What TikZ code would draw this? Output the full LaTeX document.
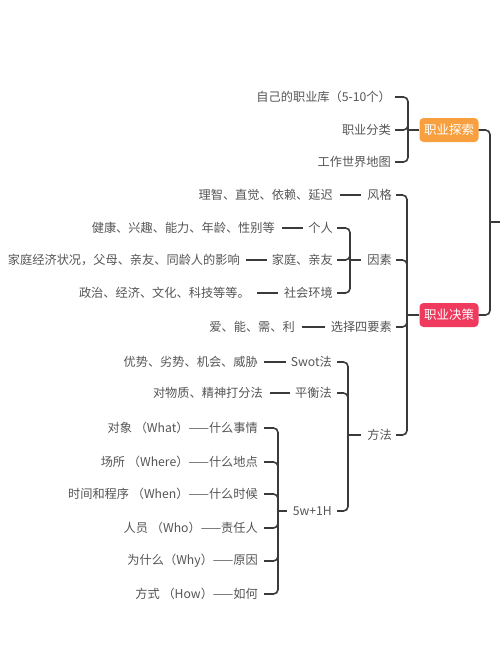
\documentclass[tikz,border=0pt]{standalone}
\usepackage{fontspec}
\setmainfont{Noto Sans CJK SC}
\usetikzlibrary{calc}
\definecolor{txt}{HTML}{555555}
\definecolor{ln}{HTML}{3A3A3A}
\definecolor{org}{HTML}{F8A040}
\definecolor{rd}{HTML}{EF3A5D}
\begin{document}
\begin{tikzpicture}[x=1pt,y=-1pt,
  lbl/.style={anchor=east,inner sep=0pt,text=txt,font=\fontsize{12.2}{14}\selectfont},
  topic/.style={rounded corners=4pt,minimum width=59pt,minimum height=24pt,inner sep=0pt,text=white,font=\fontsize{12.5}{14}\selectfont},
  conn/.style={draw=ln,line width=1.6pt,rounded corners=4.5pt},
  leafln/.style={draw=ln,line width=1.6pt}]
\useasboundingbox[fill=white] (0,0) rectangle (500,653);

% main topics
\node[topic,fill=org] (ts) at (449,130) {职业探索};
\node[topic,fill=rd] (jc) at (449,315) {职业决策};
\coordinate (r) at (490,222);
\coordinate (rend) at (501,222);
\draw[conn] (ts.east) -| (r);
\draw[conn] (jc.east) -| (r);
\draw[leafln] (r) -- (rend);

% 职业探索 children
\node[lbl] (e1) at (391,97) {自己的职业库（5-10个）};
\node[lbl] (e2) at (391,130) {职业分类};
\node[lbl] (e3) at (391,162) {工作世界地图};
\coordinate (bts) at (408,130);
\draw[conn] ([xshift=4pt]e1.east) -| (bts);
\draw[conn] ([xshift=4pt]e2.east) -| (bts);
\draw[conn] ([xshift=4pt]e3.east) -| (bts);
\draw[leafln] (ts.west) -- (bts);

% 职业决策 children
\node[lbl] (fg) at (392,195) {风格};
\node[lbl] (ys) at (392,260) {因素};
\node[lbl] (xz) at (392,327) {选择四要素};
\node[lbl] (ff) at (392,435) {方法};
\coordinate (bjc) at (407,315);
\draw[conn] ([xshift=4pt]fg.east) -| (bjc);
\draw[conn] ([xshift=4pt]ys.east) -| (bjc);
\draw[conn] ([xshift=4pt]xz.east) -| (bjc);
\draw[conn] ([xshift=4pt]ff.east) -| (bjc);
\draw[leafln] (jc.west) -- (bjc);

% 风格
\node[lbl] (fgl) at (333,195) {理智、直觉、依赖、延迟};
\draw[leafln] ([xshift=7pt]fgl.east) -- ([xshift=-6pt]fg.west);

% 因素
\node[lbl] (gr) at (333,228) {个人};
\node[lbl] (jt) at (333,260) {家庭、亲友};
\node[lbl] (sh) at (333,293) {社会环境};
\coordinate (bys) at (350,260);
\draw[conn] ([xshift=4pt]gr.east) -| (bys);
\draw[conn] ([xshift=4pt]jt.east) -| (bys);
\draw[conn] ([xshift=4pt]sh.east) -| (bys);
\draw[leafln] ([xshift=-6pt]ys.west) -- (bys);
\node[lbl] (grl) at (275,228) {健康、兴趣、能力、年龄、性别等};
\node[lbl] (jtl) at (240,260) {家庭经济状况，父母、亲友、同龄人的影响};
\node[lbl] (shl) at (250,293) {政治、经济、文化、科技等等。};
\draw[leafln] ([xshift=7pt]grl.east) -- ([xshift=-5pt]gr.west);
\draw[leafln] ([xshift=6pt]jtl.east) -- ([xshift=-5pt]jt.west);
\draw[leafln] ([xshift=7pt]shl.east) -- ([xshift=-6pt]sh.west);

% 选择四要素
\node[lbl] (xzl) at (295,327) {爱、能、需、利};
\draw[leafln] ([xshift=7pt]xzl.east) -- ([xshift=-6pt]xz.west);

% 方法
\node[lbl] (sw) at (332,362) {Swot法};
\node[lbl] (ph) at (332,393) {平衡法};
\node[lbl] (w5) at (332,511) {5w+1H};
\coordinate (bff) at (348,435);
\draw[conn] ([xshift=5pt]sw.east) -| (bff);
\draw[conn] ([xshift=5pt]ph.east) -| (bff);
\draw[conn] ([xshift=5pt]w5.east) -| (bff);
\draw[leafln] ([xshift=-6pt]ff.west) -- (bff);
\node[lbl] (swl) at (258,362) {优势、劣势、机会、威胁};
\node[lbl] (phl) at (263,393) {对物质、精神打分法};
\draw[leafln] ([xshift=6pt]swl.east) -- ([xshift=-5pt]sw.west);
\draw[leafln] ([xshift=7pt]phl.east) -- ([xshift=-5pt]ph.west);

% 5w+1H
\node[lbl] (a1) at (258,428) {对象 （What）——什么事情};
\node[lbl] (a2) at (258,462) {场所 （Where）——什么地点};
\node[lbl] (a3) at (258,494) {时间和程序 （When）——什么时候};
\node[lbl] (a4) at (258,528) {人员 （Who）——责任人};
\node[lbl] (a5) at (258,561) {为什么（Why）——原因};
\node[lbl] (a6) at (258,594) {方式 （How）——如何};
\coordinate (b5) at (278,511);
\foreach \n in {a1,a2,a3,a4,a5,a6}{\draw[conn] ([xshift=6pt]\n.east) -| (b5);}
\draw[leafln] ([xshift=-6pt]w5.west) -- (b5);
\end{tikzpicture}
\end{document}
